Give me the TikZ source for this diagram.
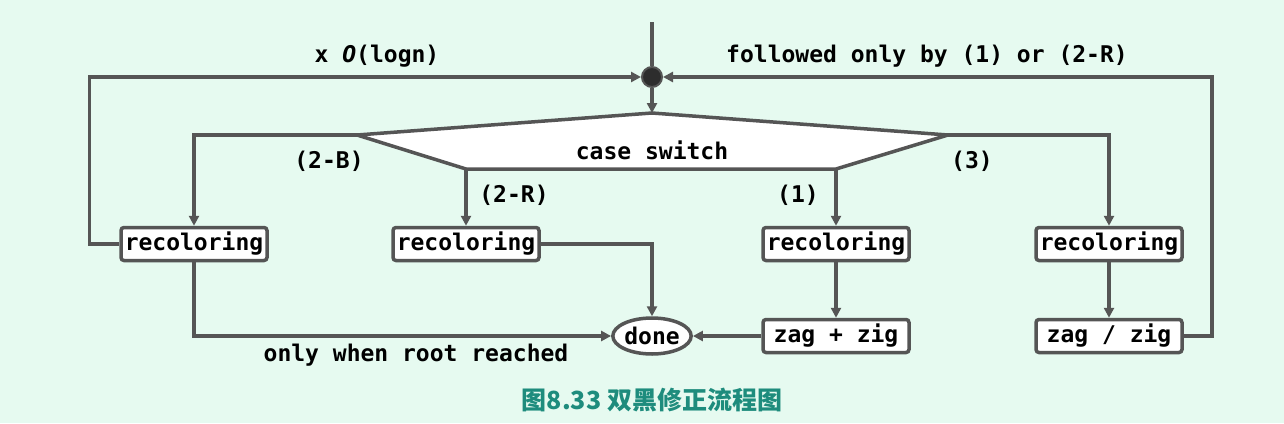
\documentclass[tikz,border=0pt]{standalone}
\usepackage{fontspec}
\setmonofont{DejaVu Sans Mono}
\newfontfamily\cjkfont{Noto Sans CJK SC}
\usetikzlibrary{arrows.meta,shapes.geometric}
\definecolor{bgc}{RGB}{230,250,240}
\definecolor{linec}{RGB}{85,85,85}
\definecolor{dotc}{RGB}{45,45,45}
\definecolor{capc}{RGB}{30,140,125}
\newcommand\lblfont{\ttfamily\bfseries\fontsize{23}{27}\selectfont}
\begin{document}
\begin{tikzpicture}[x=1pt,y=-1pt,
  box/.style={draw=linec, line width=3.5pt, rounded corners=3pt, fill=white,
    minimum width=146pt, minimum height=33pt, inner sep=0pt, font=\lblfont},
  endnode/.style={ellipse, draw=linec, line width=3.5pt, fill=white,
    minimum width=78pt, minimum height=36pt, inner sep=0pt, font=\lblfont},
  conn/.style={draw=linec, line width=3.5pt},
  arr/.style={conn, -{Triangle[length=10pt,width=10pt]}},
  lbl/.style={font=\lblfont, text=black, inner sep=0pt}]
\fill[bgc] (0,0) rectangle (1284,423);
\useasboundingbox (0,0) rectangle (1284,423);
% hexagon
\coordinate (hT) at (652,113);
\coordinate (hL) at (357,135);
\coordinate (hBL) at (466,169);
\coordinate (hBR) at (836,169);
\coordinate (hR) at (948,135);
\draw[conn, fill=white, line join=miter] (hT) -- (hR) -- (hBR) -- (hBL) -- (hL) -- cycle;
\node[lbl] (cs) at (652,150) {case switch};
% junction
\node[circle, fill=dotc, draw=linec, line width=2pt, minimum size=20pt, inner sep=0pt] (dot) at (652,77) {};
\coordinate (top) at (652,22);
% boxes
\node[box] (rec1) at (194,244) {recoloring};
\node[box] (rec2) at (466,244) {recoloring};
\node[box] (rec3) at (836,244) {recoloring};
\node[box] (rec4) at (1109,244) {recoloring};
\node[box] (zz1) at (836,336) {zag + zig};
\node[box] (zz2) at (1109,336) {zag / zig};
\node[endnode] (done) at (652,336) {done};
% connectors
\draw[conn] (top) -- (dot.north);
\draw[arr] (dot.south) -- (hT);
\draw[arr] (rec1.west) -- ++(-30,0) |- (dot.west);
\draw[arr] (zz2.east) -- ++(28,0) |- (dot.east);
\draw[arr] (hL) -| (rec1.north);
\draw[arr] (hBL) -- (rec2.north);
\draw[arr] (hBR) -- (rec3.north);
\draw[arr] (hR) -| (rec4.north);
\draw[arr] (rec1.south) |- (done.west);
\draw[arr] (rec2.east) -| (done.north);
\draw[arr] (rec3.south) -- (zz1.north);
\draw[arr] (zz1.west) -- (done.east);
\draw[arr] (rec4.south) -- (zz2.north);
% labels
\node[lbl] (l1) at (377,56) {x \textit{O}(logn)};
\node[lbl] (l2) at (927,56) {followed only by (1) or (2-R)};
\node[lbl] (l3) at (329,161) {(2-B)};
\node[lbl] (l4) at (514,195) {(2-R)};
\node[lbl] (l5) at (798,195) {(1)};
\node[lbl] (l6) at (972,161) {(3)};
\node[lbl] (l7) at (416,355) {only when root reached};
\node[font={\cjkfont\bfseries\fontsize{25}{29}\selectfont}, text=capc, inner sep=0pt] (cap) at (652,400) {图8.33 双黑修正流程图};
\end{tikzpicture}
\end{document}
